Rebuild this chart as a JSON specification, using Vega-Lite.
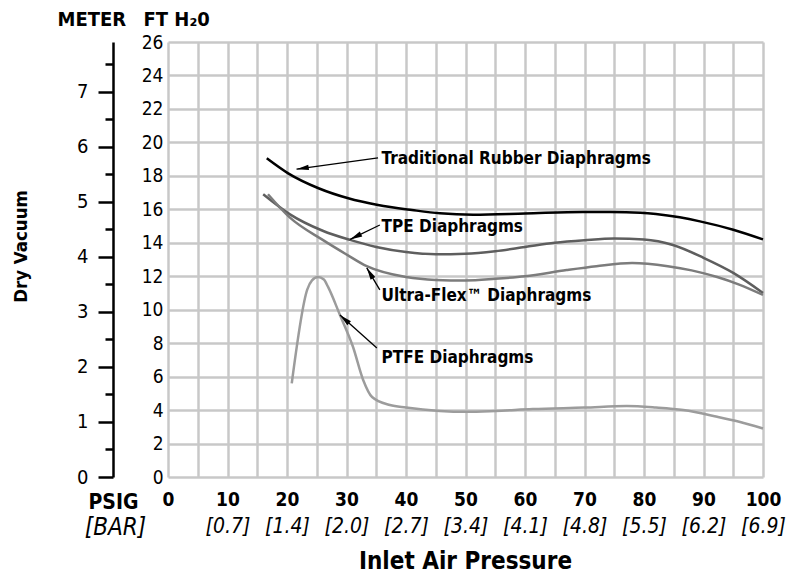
{
  "$schema": "https://vega.github.io/schema/vega-lite/v6.json",
  "width": 595,
  "height": 435,
  "autosize": {"type": "none"},
  "padding": {"left": 168, "top": 42, "right": 28, "bottom": 100},
  "background": "white",
  "config": {
    "font": "DejaVu Sans Condensed, Liberation Sans Narrow, sans-serif",
    "view": {"stroke": null},
    "axis": {"labelColor": "black", "titleColor": "black"}
  },
  "datasets": {
    "curves": [
      {"s": "Rubber", "psi": 16.6, "ft": 19.05},
      {"s": "Rubber", "psi": 20.2, "ft": 18.15},
      {"s": "Rubber", "psi": 25.3, "ft": 17.26},
      {"s": "Rubber", "psi": 30.3, "ft": 16.66},
      {"s": "Rubber", "psi": 35.3, "ft": 16.26},
      {"s": "Rubber", "psi": 41, "ft": 15.96},
      {"s": "Rubber", "psi": 45.7, "ft": 15.76},
      {"s": "Rubber", "psi": 51.3, "ft": 15.68},
      {"s": "Rubber", "psi": 60, "ft": 15.75},
      {"s": "Rubber", "psi": 69.7, "ft": 15.84},
      {"s": "Rubber", "psi": 77, "ft": 15.83},
      {"s": "Rubber", "psi": 82, "ft": 15.72},
      {"s": "Rubber", "psi": 86, "ft": 15.52},
      {"s": "Rubber", "psi": 89.4, "ft": 15.28},
      {"s": "Rubber", "psi": 95, "ft": 14.78},
      {"s": "Rubber", "psi": 100, "ft": 14.2},
      {"s": "TPE", "psi": 16, "ft": 16.9},
      {"s": "TPE", "psi": 20.5, "ft": 15.7},
      {"s": "TPE", "psi": 26, "ft": 14.72},
      {"s": "TPE", "psi": 30.6, "ft": 14.17},
      {"s": "TPE", "psi": 35, "ft": 13.75},
      {"s": "TPE", "psi": 40, "ft": 13.45},
      {"s": "TPE", "psi": 45, "ft": 13.32},
      {"s": "TPE", "psi": 50, "ft": 13.35},
      {"s": "TPE", "psi": 55, "ft": 13.5},
      {"s": "TPE", "psi": 60, "ft": 13.75},
      {"s": "TPE", "psi": 65, "ft": 14.0},
      {"s": "TPE", "psi": 70, "ft": 14.15},
      {"s": "TPE", "psi": 75, "ft": 14.25},
      {"s": "TPE", "psi": 80, "ft": 14.2},
      {"s": "TPE", "psi": 85, "ft": 13.85},
      {"s": "TPE", "psi": 90, "ft": 13.1},
      {"s": "TPE", "psi": 95, "ft": 12.2},
      {"s": "TPE", "psi": 100, "ft": 11.0},
      {"s": "Ultra", "psi": 16.8, "ft": 16.9},
      {"s": "Ultra", "psi": 20.5, "ft": 15.5},
      {"s": "Ultra", "psi": 26, "ft": 14.17},
      {"s": "Ultra", "psi": 30, "ft": 13.3},
      {"s": "Ultra", "psi": 33.4, "ft": 12.6},
      {"s": "Ultra", "psi": 40, "ft": 11.95},
      {"s": "Ultra", "psi": 45, "ft": 11.78},
      {"s": "Ultra", "psi": 50, "ft": 11.75},
      {"s": "Ultra", "psi": 55, "ft": 11.85},
      {"s": "Ultra", "psi": 60, "ft": 12.0},
      {"s": "Ultra", "psi": 67, "ft": 12.37},
      {"s": "Ultra", "psi": 72, "ft": 12.6},
      {"s": "Ultra", "psi": 78, "ft": 12.79},
      {"s": "Ultra", "psi": 84, "ft": 12.6},
      {"s": "Ultra", "psi": 88, "ft": 12.35},
      {"s": "Ultra", "psi": 92.3, "ft": 11.95},
      {"s": "Ultra", "psi": 96, "ft": 11.5},
      {"s": "Ultra", "psi": 100, "ft": 10.88},
      {"s": "PTFE", "psi": 20.8, "ft": 5.6},
      {"s": "PTFE", "psi": 23.4, "ft": 11.2},
      {"s": "PTFE", "psi": 24.2, "ft": 11.75},
      {"s": "PTFE", "psi": 25.2, "ft": 11.95},
      {"s": "PTFE", "psi": 26.2, "ft": 11.8},
      {"s": "PTFE", "psi": 26.9, "ft": 11.36},
      {"s": "PTFE", "psi": 28.9, "ft": 9.68},
      {"s": "PTFE", "psi": 31.1, "ft": 7.77},
      {"s": "PTFE", "psi": 32.8, "ft": 5.8},
      {"s": "PTFE", "psi": 34.3, "ft": 4.78},
      {"s": "PTFE", "psi": 37.3, "ft": 4.3},
      {"s": "PTFE", "psi": 40, "ft": 4.15},
      {"s": "PTFE", "psi": 45.7, "ft": 3.95},
      {"s": "PTFE", "psi": 50.2, "ft": 3.9},
      {"s": "PTFE", "psi": 55, "ft": 3.95},
      {"s": "PTFE", "psi": 61.3, "ft": 4.06},
      {"s": "PTFE", "psi": 70, "ft": 4.15},
      {"s": "PTFE", "psi": 77.1, "ft": 4.24},
      {"s": "PTFE", "psi": 82, "ft": 4.15},
      {"s": "PTFE", "psi": 86.6, "ft": 4.0},
      {"s": "PTFE", "psi": 92.3, "ft": 3.6},
      {"s": "PTFE", "psi": 96, "ft": 3.3},
      {"s": "PTFE", "psi": 100, "ft": 2.9}
    ],
    "notes": [
      {"label": "Traditional Rubber Diaphragms", "tx": 35.9, "ty": 19.0, "x1": 35.3, "y1": 19.07, "x2": 21.6, "y2": 18.4, "ang": 261.6},
      {"label": "TPE Diaphragms", "tx": 35.9, "ty": 14.94, "x1": 35.6, "y1": 15.06, "x2": 30.6, "y2": 14.2, "ang": 243.4},
      {"label": "Ultra-Flex™ Diaphragms", "tx": 35.9, "ty": 10.82, "x1": 35.6, "y1": 11.18, "x2": 33.4, "y2": 12.5, "ang": 329.4},
      {"label": "PTFE Diaphragms", "tx": 35.9, "ty": 7.11, "x1": 35.1, "y1": 7.71, "x2": 28.9, "y2": 9.68, "ang": 311.7}
    ],
    "psiRange": [{"psi": 0}, {"psi": 100}],
    "meterRange": [{"m": 0}, {"m": 7.9}]
  },
  "layer": [
    {
      "data": {"name": "curves"},
      "mark": {"type": "line", "interpolate": "monotone", "strokeWidth": 2.5},
      "encoding": {
        "x": {
          "field": "psi", "type": "quantitative",
          "scale": {"domain": [0, 100], "nice": false},
          "axis": {
            "orient": "bottom",
            "values": [0, 5, 10, 15, 20, 25, 30, 35, 40, 45, 50, 55, 60, 65, 70, 75, 80, 85, 90, 95, 100],
            "labelExpr": "datum.value % 10 == 0 ? datum.label : ''",
            "grid": true, "gridColor": "#c8c8c8", "gridWidth": 2.5, "gridOpacity": 1,
            "ticks": false, "domain": false, "labelFlush": false,
            "labelFontSize": 19, "labelFontWeight": "bold", "labelPadding": 13,
            "title": "PSIG", "titleFontSize": 21, "titleFontWeight": "bold",
            "titleX": -55, "titleY": 25, "titleAlign": "center", "titleBaseline": "middle", "titleAngle": 0
          }
        },
        "y": {
          "field": "ft", "type": "quantitative",
          "scale": {"domain": [0, 26], "nice": false},
          "axis": {
            "orient": "left",
            "values": [0, 2, 4, 6, 8, 10, 12, 14, 16, 18, 20, 22, 24, 26],
            "grid": true, "gridColor": "#c8c8c8", "gridWidth": 2.5, "gridOpacity": 1,
            "ticks": false, "domain": false, "labelFlush": false,
            "labelFontSize": 19, "labelPadding": 5,
            "title": "FT H₂0", "titleFontSize": 20, "titleFontWeight": "bold",
            "titleX": -25, "titleY": -17, "titleAlign": "left", "titleBaseline": "alphabetic", "titleAngle": 0
          }
        },
        "color": {
          "field": "s", "type": "nominal", "legend": null,
          "scale": {"domain": ["Rubber", "TPE", "Ultra", "PTFE"], "range": ["#000000", "#5e5e5e", "#7c7c7c", "#9c9c9c"]}
        }
      }
    },
    {
      "data": {"name": "psiRange"},
      "mark": {"type": "point", "opacity": 0},
      "encoding": {
        "x": {
          "field": "psi", "type": "quantitative",
          "scale": {"domain": [0, 100], "nice": false},
          "axis": {
            "orient": "bottom",
            "values": [10, 20, 30, 40, 50, 60, 70, 80, 90, 100],
            "labelExpr": "['', '[0.7]', '[1.4]', '[2.0]', '[2.7]', '[3.4]', '[4.1]', '[4.8]', '[5.5]', '[6.2]', '[6.9]'][round(datum.value / 10)]",
            "grid": false, "ticks": false, "domain": false, "labelFlush": false,
            "labelFontSize": 21, "labelFontStyle": "italic", "labelPadding": 38,
            "title": "[BAR]", "titleFontSize": 24, "titleFontWeight": "normal", "titleFontStyle": "italic",
            "titleX": -53, "titleY": 50, "titleAlign": "center", "titleBaseline": "middle", "titleAngle": 0
          }
        }
      }
    },
    {
      "data": {"name": "psiRange"},
      "mark": {"type": "point", "opacity": 0},
      "encoding": {
        "x": {
          "field": "psi", "type": "quantitative",
          "scale": {"domain": [0, 100], "nice": false},
          "axis": {
            "orient": "bottom",
            "labels": false, "grid": false, "ticks": false, "domain": false,
            "title": "Inlet Air Pressure", "titleFontSize": 24, "titleFontWeight": "bold",
            "titleX": 297, "titleY": 84, "titleAlign": "center", "titleBaseline": "middle", "titleAngle": 0
          }
        }
      }
    },
    {
      "data": {"name": "meterRange"},
      "mark": {"type": "point", "opacity": 0},
      "encoding": {
        "y": {
          "field": "m", "type": "quantitative",
          "scale": {"domain": [0, 7.9], "nice": false},
          "axis": {
            "orient": "left", "offset": 55,
            "values": [0, 1, 2, 3, 4, 5, 6, 7],
            "grid": false, "ticks": true, "tickSize": 15, "tickWidth": 2.5, "tickColor": "black",
            "domain": true, "domainWidth": 2.5, "domainColor": "black",
            "labelFlush": false, "labelFontSize": 20, "labelPadding": 10,
            "title": "METER", "titleFontSize": 20, "titleFontWeight": "bold",
            "titleX": -56, "titleY": -17, "titleAlign": "left", "titleBaseline": "alphabetic", "titleAngle": 0
          }
        }
      }
    },
    {
      "data": {"name": "meterRange"},
      "mark": {"type": "point", "opacity": 0},
      "encoding": {
        "y": {
          "field": "m", "type": "quantitative",
          "scale": {"domain": [0, 7.9], "nice": false},
          "axis": {
            "orient": "left", "offset": 55,
            "values": [0.5, 1.5, 2.5, 3.5, 4.5, 5.5, 6.5, 7.5],
            "grid": false, "ticks": true, "tickSize": 8, "tickWidth": 2.5, "tickColor": "black",
            "domain": false, "labels": false,
            "title": "Dry Vacuum", "titleFontSize": 18.5, "titleFontWeight": "bold",
            "titleX": -93, "titleY": 204, "titleAlign": "center", "titleBaseline": "middle", "titleAngle": -90
          }
        }
      }
    },
    {
      "data": {"name": "notes"},
      "mark": {"type": "rule", "stroke": "black", "strokeWidth": 1.3},
      "encoding": {
        "x": {"field": "x1", "type": "quantitative", "scale": {"domain": [0, 100], "nice": false}, "axis": null},
        "y": {"field": "y1", "type": "quantitative", "scale": {"domain": [0, 26], "nice": false}, "axis": null},
        "x2": {"field": "x2"},
        "y2": {"field": "y2"}
      }
    },
    {
      "data": {"name": "notes"},
      "mark": {"type": "point", "shape": "M0,0L-0.45,2L0.45,2Z", "filled": true, "color": "black", "opacity": 1, "size": 150, "strokeWidth": 0},
      "encoding": {
        "x": {"field": "x2", "type": "quantitative", "scale": {"domain": [0, 100], "nice": false}, "axis": null},
        "y": {"field": "y2", "type": "quantitative", "scale": {"domain": [0, 26], "nice": false}, "axis": null},
        "angle": {"field": "ang", "type": "quantitative", "scale": null}
      }
    },
    {
      "data": {"name": "notes"},
      "mark": {"type": "text", "align": "left", "baseline": "middle", "fontSize": 17, "fontWeight": "bold", "color": "black"},
      "encoding": {
        "x": {"field": "tx", "type": "quantitative", "scale": {"domain": [0, 100], "nice": false}, "axis": null},
        "y": {"field": "ty", "type": "quantitative", "scale": {"domain": [0, 26], "nice": false}, "axis": null},
        "text": {"field": "label"}
      }
    }
  ],
  "resolve": {"scale": {"x": "independent", "y": "independent", "color": "independent"}}
}
